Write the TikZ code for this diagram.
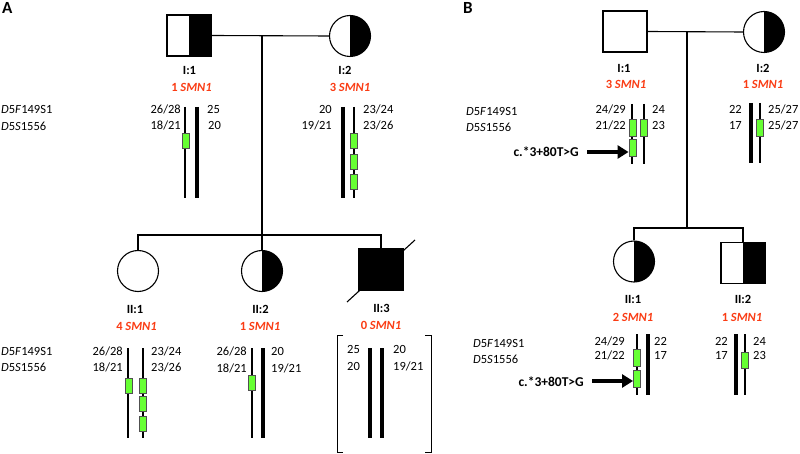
\documentclass[tikz,border=0pt]{standalone}
\usepackage{fontspec}
\setmainfont{Carlito}
\usetikzlibrary{arrows.meta}
\definecolor{cnred}{RGB}{250,60,20}
\definecolor{gfill}{RGB}{102,255,51}
\definecolor{gedge}{RGB}{80,80,80}
\newcommand{\mkF}{\textit{D}5\textit{F}149S1}
\newcommand{\mkS}{\textit{D}5\textit{S}1556}
\newcommand{\smn}[1]{#1 \textit{SMN1}}
\begin{document}
\begin{tikzpicture}[x=1pt,y=-1pt,
  every node/.style={font=\fontsize{12.5}{15}\selectfont, inner sep=0pt},
  ped/.style={line width=1.1pt},
  male/.style={draw, line width=1.1pt, rectangle, minimum width=44pt, minimum height=41pt},
  female/.style={draw, line width=1.1pt, circle, minimum size=41pt},
  half/.style={path picture={\fill[black] (path picture bounding box.north) rectangle (path picture bounding box.south east);}},
  full/.style={fill=black},
  idl/.style={font=\fontsize{12.5}{15}\selectfont\bfseries, anchor=base},
  cnl/.style={font=\fontsize{12.5}{15}\selectfont\bfseries, text=cnred, anchor=base},
  lt/.style={anchor=base east},
  rt/.style={anchor=base west},
  thinchr/.style={line width=1.3pt},
  thickchr/.style={line width=4.5pt},
  gbox/.style={draw=gedge, fill=gfill, line width=0.9pt, minimum width=7pt, minimum height=15pt},
  mut/.style={line width=3.8pt, -{Triangle[length=11pt,width=13pt]}},
  mutl/.style={font=\fontsize{13.5}{16}\selectfont\bfseries, anchor=base east},
  panel/.style={font=\fontsize{17}{20}\selectfont\bfseries, anchor=north west},
  brk/.style={line width=1pt},
]
\useasboundingbox (0,0) rectangle (800,454);

% ================= Panel A =================
\node[panel] (pA) at (2,2) {A};
\node[male, half] (IA1) at (189,35.5) {};
\node[female, half] (IA2) at (350,36) {};
\coordinate (mA) at (262,35.5);
\coordinate (sA) at (262,235);
\draw[ped] (IA1.east) -- (IA2.west);
\node[female] (IIA1) at (138,271) {};
\node[female, half] (IIA2) at (262,271) {};
\node[male, full] (IIA3) at (381,269.5) {};
\draw[ped] (mA) -- (IIA2.north);
\draw[ped] (IIA1.north) -- (IIA1.north |- sA) -- (IIA3.north |- sA) -- (IIA3.north);
\draw[ped] ([shift={(-34,32.5)}]IIA3.center) -- ([shift={(34,-29.5)}]IIA3.center);

\node[idl] (tIA1) at (189.5,75) {I:1};
\node[cnl] (cIA1) at (191.5,92) {\smn{1}};
\node[idl] (tIA2) at (345,75) {I:2};
\node[cnl] (cIA2) at (350,92) {\smn{3}};
\node[idl] (tIIA1) at (135,313) {II:1};
\node[cnl] (cIIA1) at (136.5,330) {\smn{4}};
\node[idl] (tIIA2) at (260.5,313) {II:2};
\node[cnl] (cIIA2) at (260,330) {\smn{1}};
\node[idl] (tIIA3) at (381.5,312) {II:3};
\node[cnl] (cIIA3) at (381,329) {\smn{0}};

% markers
\node[rt] (mkA1) at (1,114) {\mkF};
\node[rt] (mkA2) at (1,131) {\mkS};
\node[rt] (mkA3) at (1,355) {\mkF};
\node[rt] (mkA4) at (1,371) {\mkS};

% I:1 A haplotypes
\draw[thinchr] (185,107) -- (185,198);
\draw[thickchr] (197,107) -- (197,198);
\node[gbox] (gA1) at (185.5,140.5) {};
\node[lt] at (181,113.5) {26/28};
\node[lt] at (181,130) {18/21};
\node[rt] at (207,113.5) {25};
\node[rt] at (208,130) {20};

% I:2 A
\draw[thickchr] (343,107) -- (343,198);
\draw[thinchr] (354,107) -- (354,198);
\node[gbox] (gA2) at (354,140.5) {};
\node[gbox] (gA3) at (354,161.5) {};
\node[gbox] (gA4) at (354,182) {};
\node[lt] at (332,113.5) {20};
\node[lt] at (332,130) {19/21};
\node[rt] at (363,113.5) {23/24};
\node[rt] at (363,130) {23/26};

% II:1 A
\draw[thinchr] (128,348) -- (128,438);
\draw[thinchr] (143,348) -- (143,438);
\node[gbox] (gA5) at (128.5,386) {};
\node[gbox] (gA6) at (143,386) {};
\node[gbox] (gA7) at (143,404) {};
\node[gbox] (gA8) at (143,424) {};
\node[lt] at (123,355) {26/28};
\node[lt] at (123,371) {18/21};
\node[rt] at (151,355) {23/24};
\node[rt] at (151,371) {23/26};

% II:2 A
\draw[thinchr] (252,348) -- (252,438);
\draw[thickchr] (263,348) -- (263,438);
\node[gbox] (gA9) at (252,382.5) {};
\node[lt] at (247,355) {26/28};
\node[lt] at (247,372) {18/21};
\node[rt] at (271,355) {20};
\node[rt] at (271,372) {19/21};

% II:3 A
\draw[thickchr] (370,348) -- (370,438);
\draw[thickchr] (382,348) -- (382,438);
\node[rt] at (347,353) {25};
\node[rt] at (347,370) {20};
\node[rt] at (393,353) {20};
\node[rt] at (393,370) {19/21};
\draw[brk] (343,335) -- (337,335) -- (337,452) -- (343,452);
\draw[brk] (425,335) -- (431,335) -- (431,452) -- (425,452);

% ================= Panel B =================
\node[panel] (pB) at (463,2) {B};
\node[male] (IB1) at (625,31.5) {};
\node[female, half] (IB2) at (764,32) {};
\coordinate (mB) at (687,32);
\coordinate (sB) at (687,228);
\draw[ped] (IB1.east) -- (IB2.west);
\draw[ped] (mB) -- (sB);
\node[female, half] (IIB1) at (634,261.5) {};
\node[male, half] (IIB2) at (743,263) {};
\draw[ped] (IIB1.north) -- (IIB1.north |- sB) -- (IIB2.north |- sB) -- (IIB2.north);

\node[idl] (tIB1) at (624,73) {I:1};
\node[cnl] (cIB1) at (626,89) {\smn{3}};
\node[idl] (tIB2) at (763,73) {I:2};
\node[cnl] (cIB2) at (763,89) {\smn{1}};
\node[idl] (tIIB1) at (633,303) {II:1};
\node[cnl] (cIIB1) at (633,321) {\smn{2}};
\node[idl] (tIIB2) at (743,303) {II:2};
\node[cnl] (cIIB2) at (742,321) {\smn{1}};

\node[rt] (mkB1) at (466,116) {\mkF};
\node[rt] (mkB2) at (466,132) {\mkS};
\node[rt] (mkB3) at (473,347) {\mkF};
\node[rt] (mkB4) at (473,363) {\mkS};

% I:1 B
\draw[thinchr] (632,104) -- (632,164);
\draw[thinchr] (644,104) -- (644,164);
\node[gbox, minimum height=17pt] (gB1) at (632.5,127.5) {};
\node[gbox, minimum height=17pt] (gB2) at (632.5,148) {};
\node[gbox, minimum height=17pt] (gB3) at (644,128) {};
\node[lt] at (626,114) {24/29};
\node[lt] at (626,130) {21/22};
\node[rt] at (652,114) {24};
\node[rt] at (652,130) {23};
\node[mutl] (mutB1) at (579,157) {c.*3+80T>G};
\coordinate (aB1) at (587,152);
\draw[mut] (aB1) -- (gB2.west |- aB1);

% I:2 B
\draw[thickchr] (751,103) -- (751,163);
\draw[thinchr] (760,103) -- (760,163);
\node[gbox, minimum height=17pt] (gB4) at (760,127.5) {};
\node[lt] at (742,114) {22};
\node[lt] at (742,130) {17};
\node[rt] at (768,114) {25/27};
\node[rt] at (768,130) {25/27};

% II:1 B
\draw[thinchr] (637,334) -- (637,395);
\draw[thickchr] (648,334) -- (648,395);
\node[gbox, minimum height=17pt] (gB5) at (637,357.5) {};
\node[gbox, minimum height=17pt] (gB6) at (637,378.5) {};
\node[lt] at (625,345) {24/29};
\node[lt] at (625,359) {21/22};
\node[rt] at (654,345) {22};
\node[rt] at (654,359) {17};
\node[mutl] (mutB2) at (584,386) {c.*3+80T>G};
\coordinate (aB2) at (592,381);
\draw[mut] (aB2) -- (gB6.west |- aB2);

% II:2 B
\draw[thickchr] (736,334) -- (736,395);
\draw[thinchr] (745,334) -- (745,395);
\node[gbox, minimum height=16pt] (gB7) at (745,360) {};
\node[lt] at (728,345) {22};
\node[lt] at (728,359) {17};
\node[rt] at (753,345) {24};
\node[rt] at (753,359) {23};
\end{tikzpicture}
\end{document}
